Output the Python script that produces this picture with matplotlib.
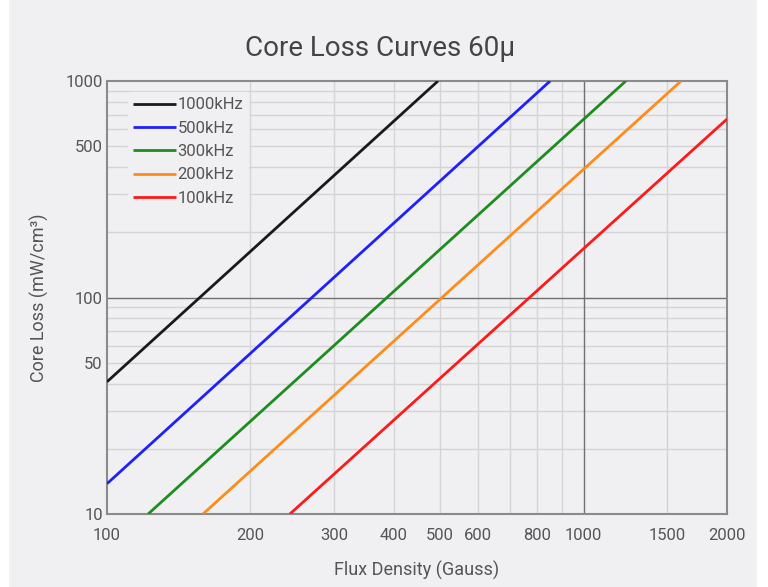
import matplotlib.pyplot as plt
from matplotlib.ticker import FixedLocator, FixedFormatter, NullFormatter
from matplotlib.patches import Rectangle

plt.rcParams['font.family'] = ['Roboto', 'DejaVu Sans']

# endpoints (flux density in Gauss, core loss in mW/cm3)
labels = ["1000kHz", "500kHz", "300kHz", "200kHz", "100kHz"]
colors = ["#1a1a1a", "#1f1fff", "#1e8c1e", "#ff8c1a", "#ff1a1a"]
b_1000 = [100, 495]
p_1000 = [40.8, 1000]
b_500 = [100, 851]
p_500 = [13.8, 1000]
b_300 = [122, 1227]
p_300 = [10, 1000]
b_200 = [159, 1602]
p_200 = [10, 1000]
b_100 = [242, 2000]
p_100 = [10, 667]

xticks = [100, 200, 300, 400, 500, 600, 800, 1000, 1500, 2000]
yticks = [10, 50, 100, 500, 1000]
xgrid = [200, 300, 400, 500, 600, 700, 800, 900, 1500]
ygrid = [20, 30, 40, 50, 60, 70, 80, 90, 200, 300, 400, 500, 600, 700, 800, 900]

bg = "#f0f0f2"
fig = plt.figure(figsize=(7.68, 5.87), dpi=100, facecolor=bg)
fig.patches.append(Rectangle((0, 0), 8 / 768, 1, transform=fig.transFigure, color="white", zorder=0))
fig.patches.append(Rectangle((757 / 768, 0), 11 / 768, 1, transform=fig.transFigure, color="white", zorder=0))
ax = fig.add_axes([107 / 768, 1 - 514 / 587, 620 / 768, 433 / 587])
ax.set_facecolor(bg)
ax.set_xscale("log")
ax.set_yscale("log")
ax.set_xlim(100, 2000)
ax.set_ylim(10, 1000)

for g in xgrid:
    ax.axvline(g, color="#d4d4d6", lw=1, zorder=1)
for g in ygrid:
    ax.axhline(g, color="#d4d4d6", lw=1, zorder=1)
ax.axvline(1000, color="#707070", lw=1, zorder=1.5)
ax.axhline(100, color="#707070", lw=1, zorder=1.5)

series = [(b_1000, p_1000), (b_500, p_500), (b_300, p_300), (b_200, p_200), (b_100, p_100)]
for (b, p), lab, c in zip(series, labels, colors):
    ax.plot(b, p, color=c, lw=2, label=lab, zorder=3, solid_capstyle="butt")

ax.xaxis.set_major_locator(FixedLocator(xticks))
ax.xaxis.set_major_formatter(FixedFormatter([str(t) for t in xticks]))
ax.xaxis.set_minor_formatter(NullFormatter())
ax.yaxis.set_major_locator(FixedLocator(yticks))
ax.yaxis.set_major_formatter(FixedFormatter([str(t) for t in yticks]))
ax.yaxis.set_minor_formatter(NullFormatter())
ax.tick_params(which="both", length=0, labelsize=12, labelcolor="#555555")
ax.tick_params(axis="x", pad=10)
ax.tick_params(axis="y", pad=3)

for s in ax.spines.values():
    s.set_color("#8a8a8a")
    s.set_linewidth(1.5)

ax.set_xlabel("Flux Density (Gauss)", fontsize=13, color="#555555", labelpad=13)
ax.set_ylabel("Core Loss (mW/cm³)", fontsize=13, color="#555555", labelpad=12)
fig.text(0.495, 1 - 49 / 587, "Core Loss Curves 60µ", fontsize=20, color="#444444", ha="center", va="center")

leg = ax.legend(loc="upper left", bbox_to_anchor=(0.02, 0.993), frameon=True, facecolor=bg,
                edgecolor=bg, framealpha=1, fontsize=12, handlelength=2.6, handletextpad=0.1,
                labelspacing=0.5, borderpad=0.3)
for t in leg.get_texts():
    t.set_color("#555555")
leg.set_zorder(4)

fig.savefig("out.png", dpi=100, facecolor=bg)
